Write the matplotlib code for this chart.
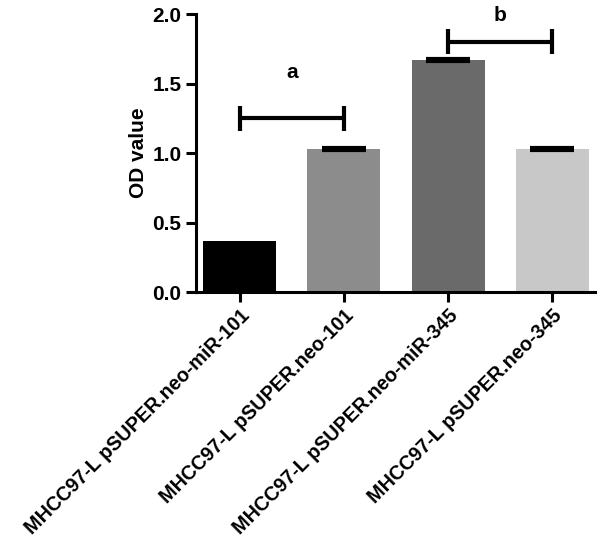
import matplotlib
matplotlib.use("Agg")
import matplotlib.pyplot as plt

categories = ["MHCC97-L pSUPER.neo-miR-101", "MHCC97-L pSUPER.neo-101",
              "MHCC97-L pSUPER.neo-miR-345", "MHCC97-L pSUPER.neo-345"]
values = [0.37, 1.03, 1.67, 1.03]
errors = [0.0, 0.006, 0.006, 0.006]
colors = ["#000000", "#8c8c8c", "#6a6a6a", "#c8c8c8"]
y_ticks = [0.0, 0.5, 1.0, 1.5, 2.0]
brackets = [(0, 1, 1.25, "a", 1.58), (2, 3, 1.80, "b", 1.99)]

plt.rcParams['font.family'] = ['Liberation Sans', 'DejaVu Sans']
plt.rcParams['font.weight'] = 'bold'

fig = plt.figure(figsize=(6.02, 5.5), dpi=100)
ax = fig.add_axes([0.3256, 0.469, 0.9884 - 0.3256, 0.9745 - 0.469])

x = list(range(len(categories)))
ax.bar(x, values, width=0.7, color=colors, edgecolor='none', zorder=2)
ex = [xi for xi, e in zip(x, errors) if e > 0]
ev = [v for v, e in zip(values, errors) if e > 0]
ee = [e for e in errors if e > 0]
ax.errorbar(ex, ev, yerr=ee, fmt='none', ecolor='black',
            elinewidth=2.5, capsize=16, capthick=3, zorder=3)

for i0, i1, yb, lab, ylab in brackets:
    ax.plot([i0, i1], [yb, yb], color='black', lw=3, solid_capstyle='butt', clip_on=False)
    for xi in (i0, i1):
        ax.plot([xi, xi], [yb - 0.09, yb + 0.09], color='black', lw=3,
                solid_capstyle='butt', clip_on=False)
    ax.text((i0 + i1) / 2, ylab, lab, ha='center', va='center',
            fontsize=15, fontweight='bold')

ax.set_xlim(-0.42, 3.41)
ax.set_ylim(0, 2.0)
ax.set_yticks(y_ticks)
ax.set_yticklabels([f"{v:.1f}" for v in y_ticks], fontsize=15, fontweight='bold')
ax.set_xticks(x)
ax.set_xticklabels(categories, rotation=45, ha='right', rotation_mode='anchor',
                   fontsize=14.2, fontweight='bold')
ax.set_ylabel("OD value", fontsize=15, fontweight='bold', labelpad=3)

for s in ['top', 'right']:
    ax.spines[s].set_visible(False)
for s in ['left', 'bottom']:
    ax.spines[s].set_linewidth(2.2)
ax.tick_params(axis='both', width=2.2, length=7, direction='out')
ax.tick_params(axis='x', pad=3)

fig.savefig("out.png", dpi=100)
